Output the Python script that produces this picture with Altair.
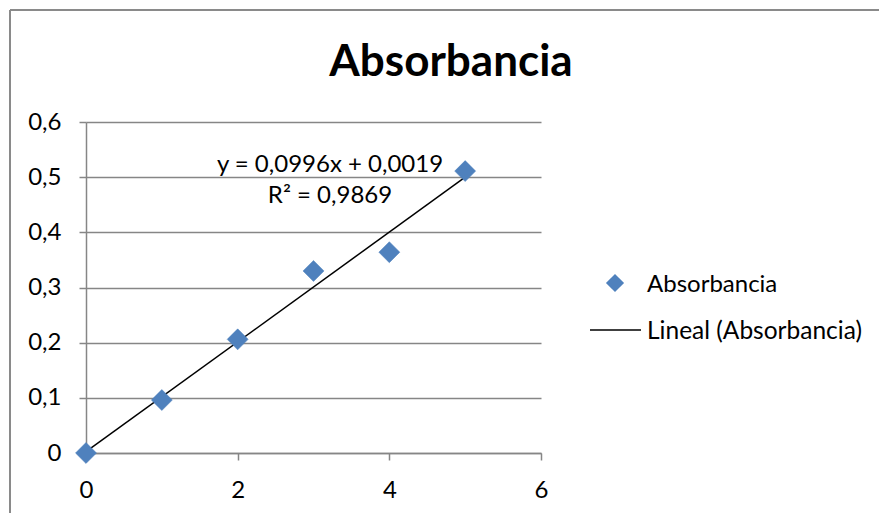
import altair as alt
import pandas as pd

# Data
x_vals = [0, 1, 2, 3, 4, 5]
y_vals = [0.0, 0.096, 0.206, 0.330, 0.364, 0.511]
series_name = "Absorbancia"
trend_name = "Lineal (Absorbancia)"
equation_lines = ["y = 0,0996x + 0,0019", "R² = 0,9869"]
x_ticks = [0, 2, 4, 6]
y_ticks = [0, 0.1, 0.2, 0.3, 0.4, 0.5, 0.6]

df = pd.DataFrame({"x": x_vals, "y": y_vals})

FONT = "Lato"
BLUE = "#4F81BD"
GRAY = "#868686"

W, H = 455, 331
PL, PT = 86, 122

label_expr = "replace(format(datum.value, '~g'), '.', ',')"

xscale = alt.Scale(domain=[0, 6], nice=False, zero=True)
yscale = alt.Scale(domain=[0, 0.6], nice=False)

xaxis = alt.Axis(values=x_ticks, grid=False, title=None, domainColor=GRAY, domainWidth=1.5,
                 tickColor=GRAY, tickWidth=1.5, tickSize=7, labelFont=FONT, labelFontSize=24,
                 labelColor="black", labelPadding=18, labelFlush=False, labelOverlap=False,
                 labelExpr=label_expr)
yaxis = alt.Axis(values=y_ticks, grid=True, gridColor=GRAY, gridWidth=1.5, title=None,
                 domainColor=GRAY, domainWidth=1.5, tickColor=GRAY, tickWidth=1.5, tickSize=7,
                 labelFont=FONT, labelFontSize=24, labelColor="black", labelPadding=18,
                 labelFlush=False, labelOverlap=False, labelExpr=label_expr)

base = alt.Chart(df)

trend = base.transform_regression("x", "y", extent=[0, 5]).mark_line(
    color="black", strokeWidth=1.5
).encode(x=alt.X("x:Q", scale=xscale, axis=xaxis), y=alt.Y("y:Q", scale=yscale, axis=yaxis))

points = base.mark_point(shape="diamond", filled=True, size=440, color=BLUE, opacity=1,
                         stroke="#4A7EBB", strokeWidth=0.5).encode(
    x=alt.X("x:Q", scale=xscale), y=alt.Y("y:Q", scale=yscale)
)

eq = alt.Chart(pd.DataFrame({"t": ["\n".join(equation_lines)]})).mark_text(
    font=FONT, fontSize=24, align="center", baseline="alphabetic", lineBreak="\n",
    lineHeight=31, color="black"
).encode(text="t:N", x=alt.value(330 - PL), y=alt.value(172 - PT))

one = pd.DataFrame({"a": [0]})
leg_point = alt.Chart(one).mark_point(shape="diamond", filled=True, size=330, color=BLUE,
                                      opacity=1).encode(x=alt.value(615 - PL), y=alt.value(283 - PT))
leg_line = alt.Chart(one).mark_rule(color="black", strokeWidth=1.5).encode(
    x=alt.value(590 - PL), x2=alt.value(641 - PL), y=alt.value(330 - PT))
leg_text1 = alt.Chart(pd.DataFrame({"t": [series_name]})).mark_text(
    font=FONT, fontSize=24, align="left", baseline="middle", color="black"
).encode(text="t:N", x=alt.value(647 - PL), y=alt.value(285 - PT))
leg_text2 = alt.Chart(pd.DataFrame({"t": [trend_name]})).mark_text(
    font=FONT, fontSize=24.5, align="left", baseline="middle", color="black"
).encode(text="t:N", x=alt.value(647 - PL), y=alt.value(332 - PT))

border_top = alt.Chart(one).mark_rule(color="#8a8a8a", strokeWidth=2).encode(
    x=alt.value(10 - PL), x2=alt.value(900), y=alt.value(10 - PT))
border_left = alt.Chart(one).mark_rule(color="#8a8a8a", strokeWidth=2).encode(
    x=alt.value(10 - PL), y=alt.value(10 - PT), y2=alt.value(600))

title_text = alt.Chart(pd.DataFrame({"t": [series_name]})).mark_text(
    font=FONT, fontSize=44, fontWeight="bold", align="center", baseline="alphabetic", color="black"
).encode(text="t:N", x=alt.value(451 - PL), y=alt.value(76 - PT))

chart = alt.layer(
    border_top, border_left, trend, points, eq, leg_point, leg_line, leg_text1, leg_text2,
    title_text
).properties(
    width=W, height=H,
    autosize=alt.AutoSizeParams(type="none"),
    padding={"left": PL, "top": PT, "right": 879 - PL - W, "bottom": 513 - PT - H},
    background="white",
).configure_view(strokeWidth=0)

chart.save("out.html", embed_options={"renderer": "svg", "actions": False})
